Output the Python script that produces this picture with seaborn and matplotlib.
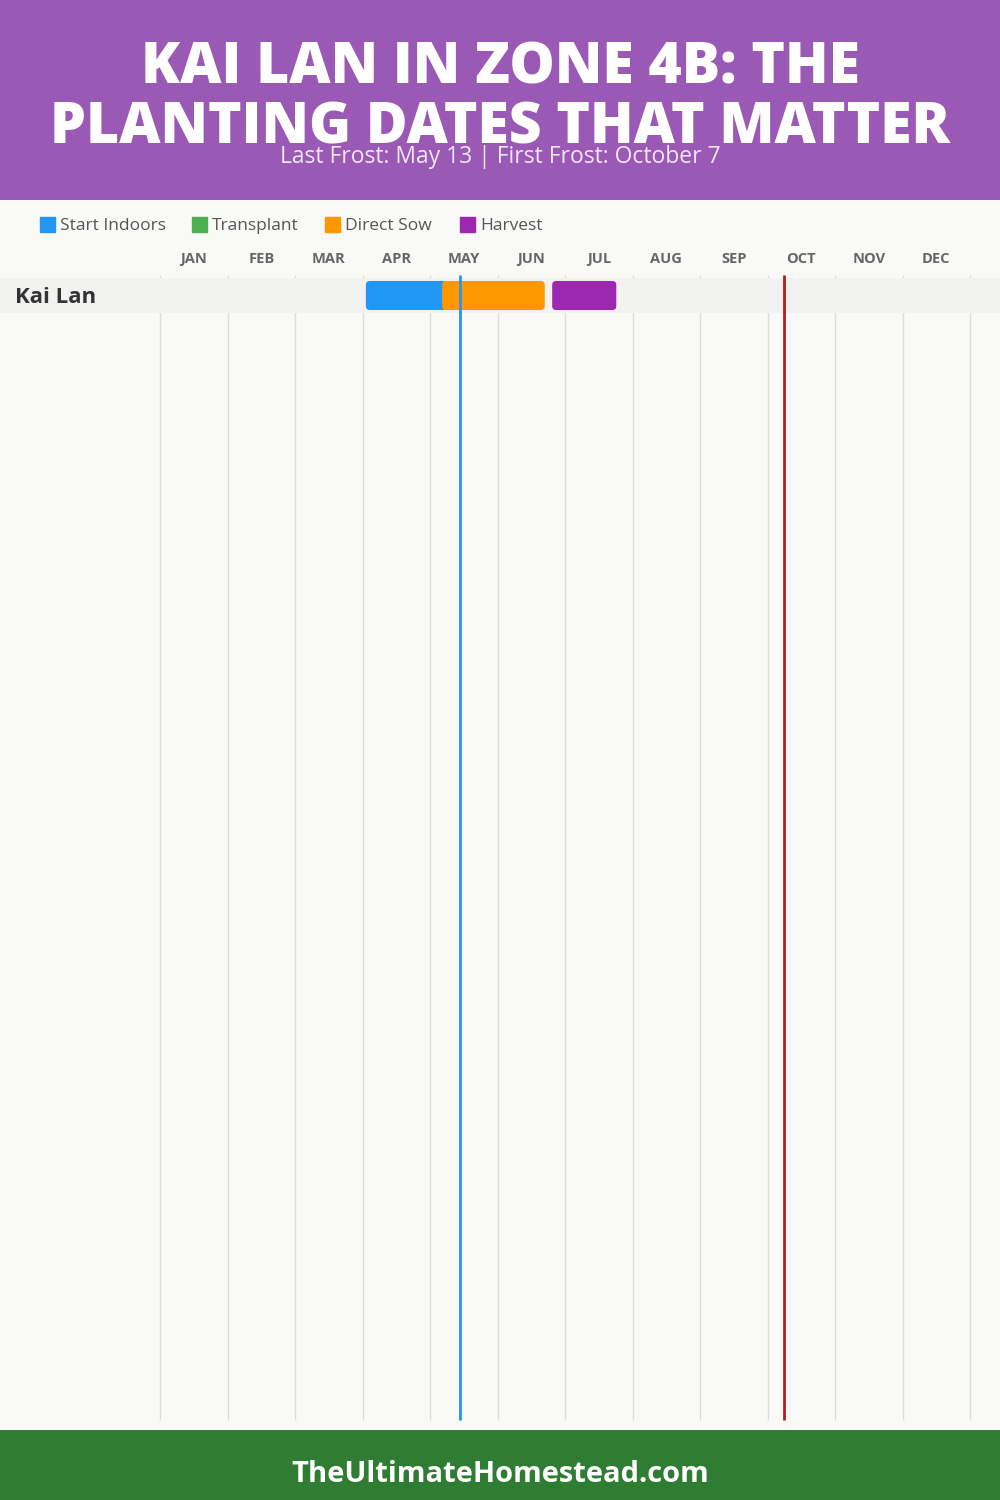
import matplotlib
matplotlib.use("Agg")
import matplotlib.pyplot as plt
from matplotlib.patches import Rectangle, FancyBboxPatch
import seaborn as sns

# data
crops = ["Kai Lan"]
months = ["JAN", "FEB", "MAR", "APR", "MAY", "JUN",
          "JUL", "AUG", "SEP", "OCT", "NOV", "DEC"]
stages = ["Start Indoors", "Transplant", "Direct Sow", "Harvest"]
stage_colors = ["#2196F3", "#4CAF50", "#FF9800", "#9C27B0"]
# spans in months counted from Jan 1 (start, end) per crop, None = no bar
start_indoors = [(3.05, 4.25)]
transplant = [None]
direct_sow = [(4.18, 5.70)]
harvest = [(5.81, 6.76)]
last_frost = 4.44
first_frost = 9.24
title_lines = ["KAI LAN IN ZONE 4B: THE", "PLANTING DATES THAT MATTER"]
subtitle = "Last Frost: May 13 | First Frost: October 7"
footer = "TheUltimateHomestead.com"

W, H = 1000, 1500
MONTH_PX = 67.5
LEFT_PX = 160
ROW_PX = 35
ROW0_PX = 295.5
BG = "#f9f9f7"


def px_x(px):
    return (px - LEFT_PX) / MONTH_PX


def px_y(px):
    return (px - ROW0_PX) / ROW_PX


def fy(px):
    return 1 - px / H


sns.set_theme(style="white")
plt.rcParams["font.family"] = ["Open Sans", "DejaVu Sans"]

fig = plt.figure(figsize=(W / 100, H / 100), dpi=100, facecolor=BG)
ax = fig.add_axes([0, 70 / H, 1, 1230 / H])
ax.set_facecolor(BG)
ax.set_xlim(px_x(0), px_x(W))
ax.set_ylim(px_y(1430), px_y(200))
ax.set_xticks([])
ax.set_yticks([])
for s in ax.spines.values():
    s.set_visible(False)

# grid lines
ax.vlines(range(13), px_y(275), px_y(1420), color="#dcdcdc", lw=1, zorder=1)

# row bands
for i, crop in enumerate(crops):
    ax.axhspan(i - 0.5, i + 0.5, color="#f2f2f1", zorder=2, lw=0)
    ax.text(px_x(15), i + 0.07, crop, fontsize=16, fontweight="bold", color="#333333",
            va="center", ha="left", zorder=5)

# bars
bar_h = 0.83
rx = 4 / MONTH_PX
aspect = (4 / ROW_PX) / rx
for spans, color in zip([start_indoors, transplant, direct_sow, harvest], stage_colors):
    rows = [i for i, s in enumerate(spans) if s is not None]
    if not rows:
        continue
    lefts = [spans[i][0] for i in rows]
    widths = [spans[i][1] - spans[i][0] for i in rows]
    bars = ax.barh(rows, widths, left=lefts, height=bar_h, color=color, zorder=3)
    for rect in list(bars):
        x, y, w, h = rect.get_x(), rect.get_y(), rect.get_width(), rect.get_height()
        rect.remove()
        ax.add_patch(FancyBboxPatch((x, y), w, h,
                                    boxstyle=f"round,pad=0,rounding_size={rx}",
                                    mutation_aspect=aspect, fc=color, ec="none",
                                    zorder=3))

# frost lines
ax.vlines([last_frost], px_y(275), px_y(1420), color="#2196F3", lw=2, zorder=4)
ax.vlines([first_frost], px_y(275), px_y(1420), color="#B71C1C", lw=2, zorder=4)

# month labels
for i, m in enumerate(months):
    ax.text(i + 0.5, px_y(259), m, ha="center", va="center", fontsize=10.5,
            fontweight="bold", color="#666666")

# legend
legend_x = [40, 192, 325, 460]
for x, label, color in zip(legend_x, stages, stage_colors):
    fig.add_artist(Rectangle((x / W, fy(232)), 15 / W, 15 / H,
                             transform=fig.transFigure, color=color))
    fig.text((x + 20) / W, fy(226), label, fontsize=12.5, color="#555555",
             ha="left", va="center")

# header
fig.add_artist(Rectangle((0, fy(200)), 1, 200 / H, transform=fig.transFigure,
                         color="#9B59B6", zorder=0))
fig.text(0.5, fy(83), title_lines[0], ha="center", va="baseline", fontsize=41,
         fontweight="heavy", color="white")
fig.text(0.5, fy(144), title_lines[1], ha="center", va="baseline", fontsize=41,
         fontweight="heavy", color="white")
fig.text(0.5, fy(163), subtitle, ha="center", va="baseline", fontsize=16.5,
         color="white", alpha=0.85)

# footer
fig.add_artist(Rectangle((0, 0), 1, 70 / H, transform=fig.transFigure,
                         color="#2E7D32", zorder=0))
fig.text(0.5, fy(1474), footer, ha="center", va="center", fontsize=21,
         fontweight="bold", color="white")

fig.savefig("out.png", dpi=100, facecolor=BG)
